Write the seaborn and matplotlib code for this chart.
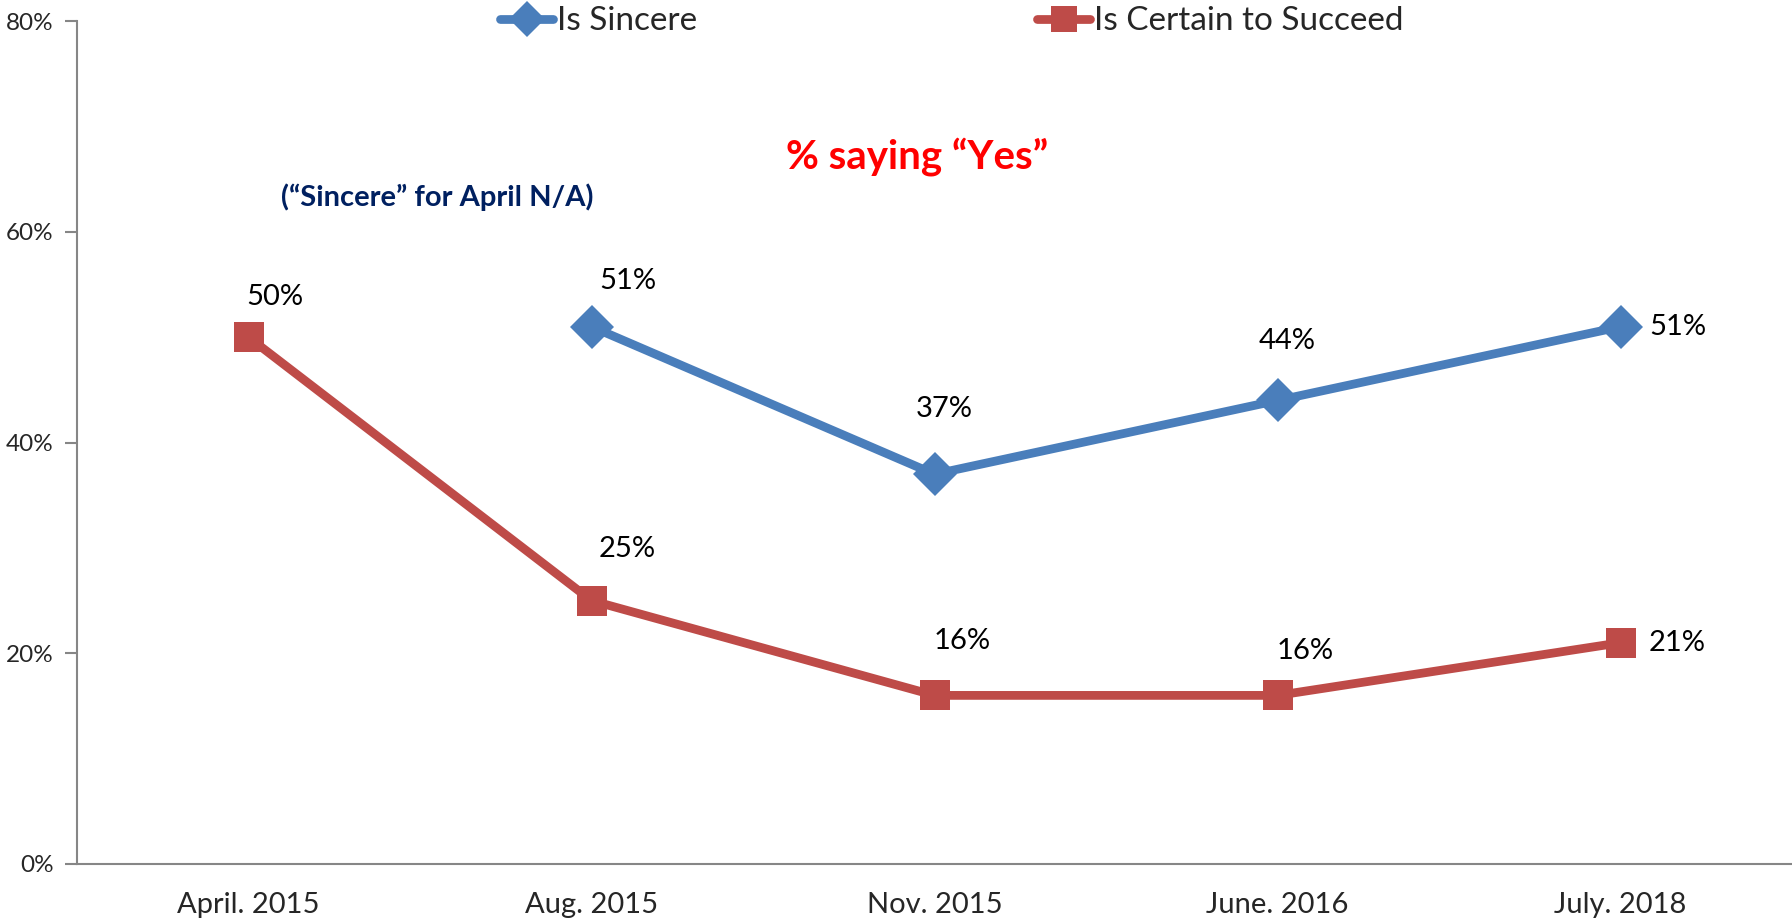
import pandas as pd
import matplotlib
matplotlib.use("Agg")
import matplotlib.pyplot as plt
import seaborn as sns
import numpy as np

# Survey waves and % saying "Yes"
waves = ["April. 2015", "Aug. 2015", "Nov. 2015", "June. 2016", "July. 2018"]
sincere = [np.nan, 51, 37, 44, 51]
certain = [50, 25, 16, 16, 21]
y_ticks = [0, 20, 40, 60, 80]

# where each data label sits relative to its point (points)
sincere_off = [(0, 0), (26, 33), (7, 47), (7, 43), (41, 0)]
certain_off = [(19, 29), (26, 37), (20, 39), (20, 32), (41, 0)]

sns.set_style("white")
plt.rcParams["font.family"] = ["Lato", "DejaVu Sans"]

blue = "#4A7EBB"
red = "#BE4B48"
axis_gray = "#868686"

df = pd.DataFrame({"pos": range(len(waves)), "Is Sincere": sincere,
                   "Is Certain to Succeed": certain})

fig = plt.figure(figsize=(17.92, 9.23), dpi=100)
ax = fig.add_axes([0.043, 0.064, 0.957, 0.913])

sns.lineplot(data=df, x="pos", y="Is Sincere", ax=ax, color=blue, lw=6.3,
             marker="D", markersize=22, markeredgewidth=0, label="Is Sincere")
sns.lineplot(data=df, x="pos", y="Is Certain to Succeed", ax=ax, color=red, lw=6.3,
             marker="s", markersize=22, markeredgewidth=0, label="Is Certain to Succeed")

# Data labels
for vals, offs in [(sincere, sincere_off), (certain, certain_off)]:
    for i, (v, off) in enumerate(zip(vals, offs)):
        if np.isnan(v):
            continue
        ax.annotate(f"{v:.0f}%", (i, v), xytext=off, textcoords="offset points",
                    ha="center", va="center", fontsize=21, color="black")

ax.text(0.49, 0.839, "% saying \u201cYes\u201d", transform=ax.transAxes, color="#FF0000",
        fontsize=29, fontweight="bold", ha="center", va="center")
ax.text(0.21, 0.791, "(\u201cSincere\u201d for April N/A)", transform=ax.transAxes,
        color="#002060", fontsize=21, fontweight="bold", ha="center", va="center")

ax.set_xlim(-0.5, len(waves) - 0.5)
ax.set_ylim(0, 80)
ax.set_yticks(y_ticks)
ax.set_yticklabels([f"{t}%" for t in y_ticks], fontsize=17.5)
ax.set_xticks(range(len(waves)))
ax.set_xticklabels(waves, fontsize=21)
ax.set_xticks(np.arange(-0.5, len(waves)), minor=True)
ax.tick_params(axis="x", which="major", length=0, pad=20)
ax.tick_params(axis="x", which="minor", length=9, width=1.5, color=axis_gray, direction="out")
ax.tick_params(axis="y", length=9, width=1.5, color=axis_gray, direction="out", left=True, pad=8)
ax.set_xlabel("")
ax.set_ylabel("")

for side in ["top", "right"]:
    ax.spines[side].set_visible(False)
for side in ["left", "bottom"]:
    ax.spines[side].set_color(axis_gray)
    ax.spines[side].set_linewidth(1.5)

ax.legend(loc="center", bbox_to_anchor=(0.531, 0.977), bbox_transform=fig.transFigure,
          ncol=2, frameon=False, fontsize=24, handlelength=1.6, handletextpad=0.1,
          columnspacing=10.2, markerscale=0.85)

plt.savefig("out.png", dpi=100)
